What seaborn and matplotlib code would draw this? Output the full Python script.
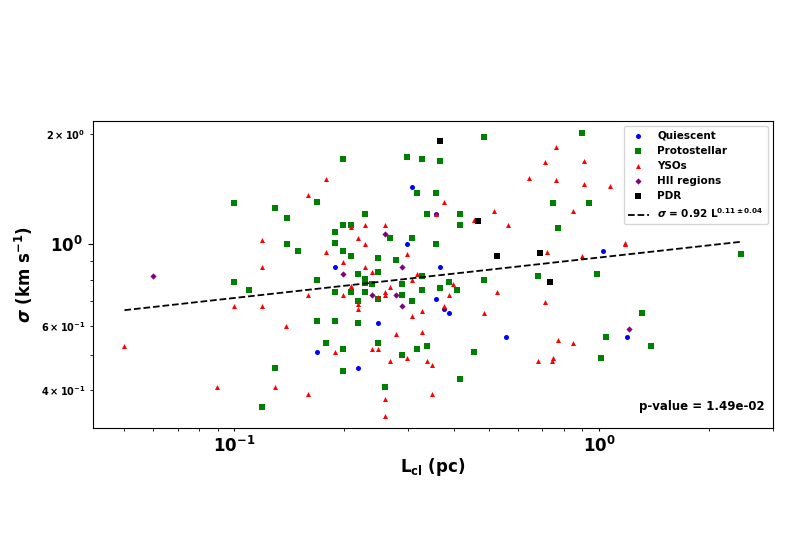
import numpy as np
import matplotlib
matplotlib.use("Agg")
import matplotlib.pyplot as plt
import seaborn as sns

# clump size (pc) and velocity dispersion (km/s), per class
quiescent_L = [0.308, 0.357, 0.297, 0.189, 0.367, 0.357, 0.376, 0.387, 0.248, 0.555,
               0.169, 0.219, 1.024, 1.191]
quiescent_sigma = [1.43, 1.21, 1.00, 0.868, 0.868, 0.709, 0.667, 0.649, 0.609, 0.560,
                   0.510, 0.460, 0.958, 0.560]

proto_L = [0.0998, 0.1295, 0.1394, 0.169, 0.1394, 0.1494, 0.485, 0.199, 0.297, 0.328,
           0.367, 0.317, 0.357, 0.229, 0.337, 0.416, 0.199, 0.209, 0.416, 0.189,
           0.268, 0.308, 0.189, 0.357, 0.199, 0.209, 0.248, 0.278, 0.248, 0.219,
           0.328, 0.229, 0.679, 0.169, 0.229, 0.2385, 0.288, 0.387, 0.367, 0.328,
           0.407, 0.485, 0.189, 0.209, 0.229, 0.248, 0.288, 0.219, 0.308, 0.169,
           0.189, 0.219, 0.179, 0.248, 0.199, 0.317, 0.337, 0.288, 0.454, 0.199,
           0.416, 0.2585, 0.0998, 0.110, 0.1297, 0.1195, 0.897, 0.749, 0.938, 0.770,
           2.455, 0.986, 1.309, 1.046, 1.389, 1.016]
proto_sigma = [1.296, 1.258, 1.179, 1.307, 1.00, 0.958, 1.968, 1.708, 1.726, 1.708,
               1.686, 1.377, 1.377, 1.209, 1.209, 1.209, 1.128, 1.128, 1.128, 1.079,
               1.039, 1.039, 1.008, 1.00, 0.958, 0.929, 0.919, 0.909, 0.839, 0.829,
               0.821, 0.807, 0.818, 0.799, 0.786, 0.778, 0.778, 0.789, 0.760, 0.749,
               0.749, 0.799, 0.740, 0.740, 0.740, 0.709, 0.729, 0.700, 0.700, 0.620,
               0.620, 0.609, 0.540, 0.540, 0.520, 0.520, 0.529, 0.500, 0.510, 0.451,
               0.430, 0.410, 0.789, 0.749, 0.460, 0.360, 2.013, 1.299, 1.299, 1.109,
               0.939, 0.833, 0.649, 0.560, 0.530, 0.489]

yso_L = [0.159, 0.1195, 0.1195, 0.179, 0.643, 0.376, 0.357, 0.515, 0.454, 0.564,
         0.209, 0.229, 0.2585, 0.219, 0.229, 0.179, 0.297, 0.199, 0.229, 0.2385,
         0.317, 0.209, 0.308, 0.268, 0.397, 0.525, 0.159, 0.199, 0.248, 0.2585,
         0.2585, 0.387, 0.219, 0.219, 0.376, 0.328, 0.308, 0.485, 0.278, 0.328,
         0.189, 0.2385, 0.248, 0.297, 0.268, 0.337, 0.348, 0.679, 0.159, 0.2585,
         0.348, 0.2585, 0.0998, 0.1195, 0.139, 0.050, 0.0898, 0.1297, 0.760, 0.711,
         0.909, 0.760, 0.909, 1.075, 0.848, 0.722, 0.897, 1.176, 1.18, 0.711,
         0.771, 0.848, 0.743, 0.749]
yso_sigma = [1.366, 1.028, 0.868, 1.509, 1.518, 1.307, 1.209, 1.237, 1.169, 1.128,
             1.118, 1.128, 1.128, 1.039, 1.00, 0.951, 0.939, 0.898, 0.868, 0.839,
             0.829, 0.770, 0.798, 0.768, 0.778, 0.740, 0.729, 0.729, 0.718, 0.740,
             0.729, 0.729, 0.688, 0.667, 0.680, 0.657, 0.639, 0.649, 0.570, 0.579,
             0.510, 0.519, 0.519, 0.489, 0.480, 0.480, 0.470, 0.480, 0.390, 0.380,
             0.390, 0.340, 0.678, 0.678, 0.599, 0.529, 0.409, 0.409, 1.847, 1.675,
             1.686, 1.499, 1.458, 1.446, 1.237, 0.951, 0.929, 1.00, 1.008, 0.697,
             0.548, 0.539, 0.480, 0.489]

hii_L = [0.060, 0.2585, 0.288, 0.199, 0.2385, 0.278, 0.288, 1.212]
hii_sigma = [0.820, 1.069, 0.868, 0.829, 0.729, 0.729, 0.680, 0.589]

pdr_L = [0.367, 0.466, 0.524, 0.689, 0.732]
pdr_sigma = [1.913, 1.159, 0.929, 0.950, 0.788]

# fitted relation sigma = 0.92 L^0.11, drawn between its end points
fit_L = [0.050, 2.455]
fit_sigma = [0.662, 1.017]
fit_label = r'$\boldsymbol{\sigma}$ = 0.92 L$^{\mathbf{0.11 \pm 0.04}}$'
p_text = 'p-value = 1.49e-02'

plt.rcParams['font.family'] = ['DejaVu Sans']
plt.rcParams['font.weight'] = 'bold'
plt.rcParams['axes.labelweight'] = 'bold'

fig = plt.figure(figsize=(7.85, 5.49), dpi=100)
ax = fig.add_axes([93 / 785, 121 / 549, 680 / 785, 307 / 549])

groups = [
    (quiescent_L, quiescent_sigma, 'blue', 'o', 'Quiescent'),
    (proto_L, proto_sigma, 'green', 's', 'Protostellar'),
    (yso_L, yso_sigma, 'red', '^', 'YSOs'),
    (hii_L, hii_sigma, 'purple', 'D', 'HII regions'),
    (pdr_L, pdr_sigma, 'black', 's', 'PDR'),
]
for xs, ys, col, mk, lab in groups:
    sz = 10 if mk == 'D' else 13
    sns.scatterplot(x=xs, y=ys, color=col, marker=mk, s=sz, linewidth=0,
                    label=lab, ax=ax)

sns.lineplot(x=fit_L, y=fit_sigma, color='black', linestyle='--', linewidth=1.3,
             label=fit_label, ax=ax)

ax.set_xscale('log')
ax.set_yscale('log')
ax.set_xlim(0.041, 3.0)
ax.set_ylim(0.316, 2.17)

ax.set_xlabel(r'L$_{\mathbf{cl}}$ (pc)', fontsize=12, labelpad=0)
ax.set_ylabel(r'$\boldsymbol{\sigma}$ (km s$^{\mathbf{-1}}$)', fontsize=12)
ax.tick_params(which='major', labelsize=12)
ax.tick_params(which='minor', labelsize=7)
ax.tick_params(axis='x', which='major', length=2.5)

ax.text(0.987, 0.05, p_text, transform=ax.transAxes, ha='right', va='bottom',
        fontsize=8.5, fontweight='bold')

ax.legend(loc='upper right', fontsize=7.5, scatterpoints=1)

fig.savefig('out.png', dpi=100)
